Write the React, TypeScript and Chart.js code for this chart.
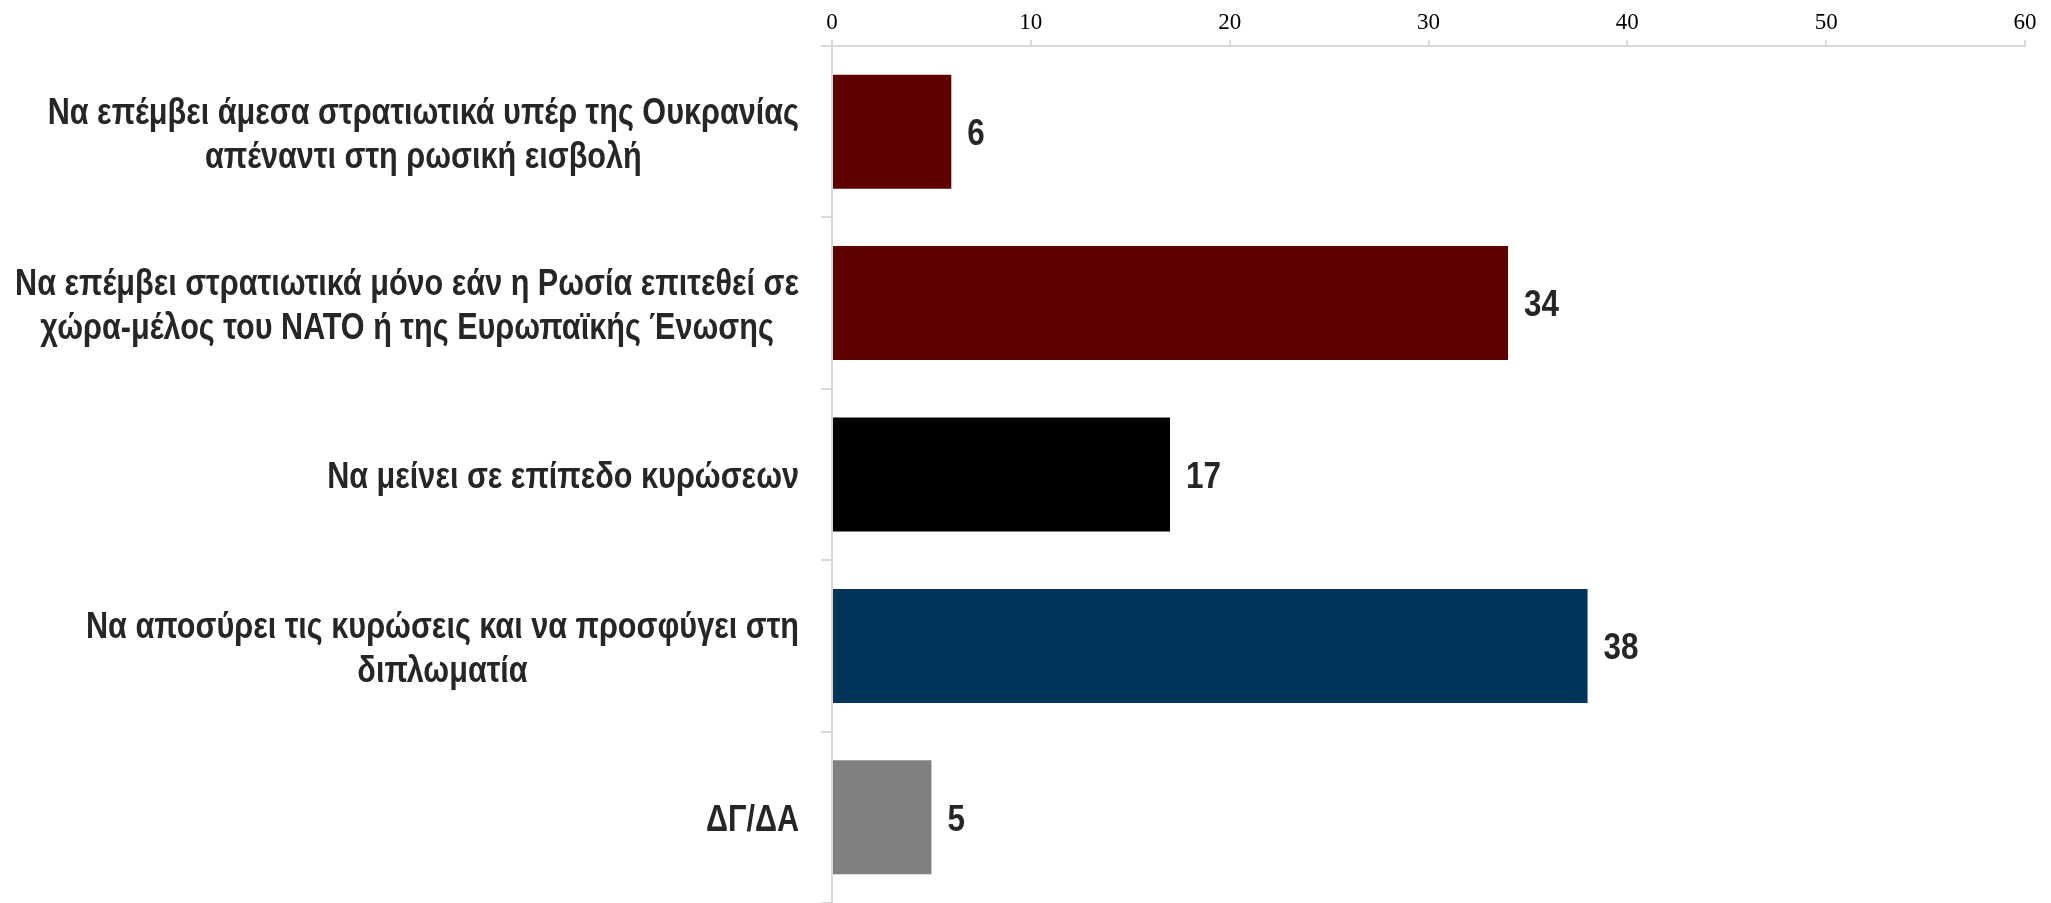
import React, { useEffect, useRef } from "react";
import { Chart, registerables } from "chart.js";

Chart.register(...registerables);

const categories: string[][] = [
  ["Να επέμβει άμεσα στρατιωτικά υπέρ της Ουκρανίας", "απέναντι στη ρωσική εισβολή"],
  ["Να επέμβει στρατιωτικά μόνο εάν η Ρωσία επιτεθεί σε", "χώρα-μέλος του ΝΑΤΟ ή της Ευρωπαϊκής Ένωσης"],
  ["Να μείνει σε επίπεδο κυρώσεων"],
  ["Να αποσύρει τις κυρώσεις και να προσφύγει στη", "διπλωματία"],
  ["ΔΓ/ΔΑ"],
];
const values: number[] = [6, 34, 17, 38, 5];
const barColors: string[] = ["#5f0000", "#5f0000", "#000000", "#003459", "#808080"];
const xTicks: number[] = [0, 10, 20, 30, 40, 50, 60];

const LABEL_FONT = '"Liberation Sans", Arial, sans-serif';
const SX = 0.85;

const labelPlugin = {
  id: "customLabels",
  afterDatasetsDraw(chart: any) {
    const ctx = chart.ctx;
    const y = chart.scales.y;
    const meta = chart.getDatasetMeta(0);
    ctx.save();
    ctx.fillStyle = "#262626";
    ctx.textBaseline = "middle";
    ctx.font = `bold 36px ${LABEL_FONT}`;
    const lineH = 44;
    categories.forEach((lines, i) => {
      const cy = y.getPixelForValue(i) + 4;
      const widths = lines.map((l) => ctx.measureText(l).width * SX);
      const w = Math.max(...widths);
      const right = chart.chartArea.left - 33;
      const cx = right - w / 2;
      lines.forEach((l, j) => {
        const ly = cy + (j - (lines.length - 1) / 2) * lineH;
        ctx.save();
        ctx.translate(cx, ly);
        ctx.scale(SX, 1);
        ctx.textAlign = "center";
        ctx.fillText(l, 0, 0);
        ctx.restore();
      });
    });
    ctx.font = `bold 37px ${LABEL_FONT}`;
    meta.data.forEach((bar: any, i: number) => {
      ctx.save();
      ctx.translate(bar.x + 16, bar.y + 3);
      ctx.scale(SX, 1);
      ctx.textAlign = "left";
      ctx.fillText(String(values[i]), 0, 0);
      ctx.restore();
    });
    ctx.restore();
  },
};

export default function App() {
  const ref = useRef<HTMLCanvasElement>(null);
  useEffect(() => {
    if (!ref.current) return;
    const chart = new Chart(ref.current, {
      type: "bar",
      data: {
        labels: categories.map((c) => c.join(" ")),
        datasets: [
          {
            data: values,
            backgroundColor: barColors,
            borderWidth: 0,
            categoryPercentage: 1,
            barPercentage: 0.665,
          },
        ],
      },
      plugins: [labelPlugin],
      options: {
        indexAxis: "y",
        animation: false,
        responsive: false,
        maintainAspectRatio: false,
        layout: { padding: { left: 0, right: 26, top: 0, bottom: 0 } },
        plugins: { legend: { display: false }, tooltip: { enabled: false } },
        scales: {
          x: {
            position: "top",
            min: 0,
            max: 60,
            afterBuildTicks: (s: any) => {
              s.ticks = xTicks.map((v) => ({ value: v }));
            },
            afterFit: (s: any) => {
              s.height = 46;
            },
            border: { display: true, color: "#d9d9d9", width: 2 },
            grid: {
              display: true,
              drawOnChartArea: false,
              drawTicks: true,
              tickLength: 6,
              color: "#d9d9d9",
              lineWidth: 2,
            },
            ticks: {
              color: "#000000",
              padding: 3,
              font: { family: '"Liberation Serif", "DejaVu Serif", serif', size: 23 },
            },
          },
          y: {
            afterFit: (s: any) => {
              s.width = 832;
            },
            border: { display: true, color: "#d9d9d9", width: 2 },
            grid: {
              display: true,
              offset: true,
              drawOnChartArea: false,
              drawTicks: true,
              tickLength: 11,
              color: "#d9d9d9",
              lineWidth: 2,
            },
            ticks: { display: false },
          },
        },
      } as any,
    });
    return () => chart.destroy();
  }, []);
  return (
    <div style={{ position: "fixed", left: 0, top: 0, width: 2051, height: 903, background: "#fff" }}>
      <canvas ref={ref} width={2051} height={903} style={{ display: "block" }} />
    </div>
  );
}
